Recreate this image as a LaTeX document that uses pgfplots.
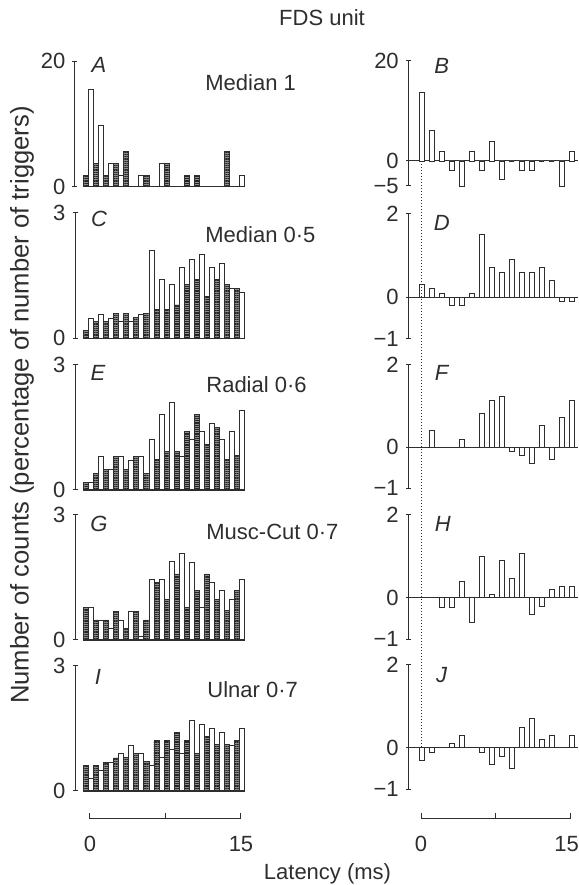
\documentclass[border=0pt]{standalone}
\usepackage{fontspec}
\setmainfont{Liberation Sans}
\usepackage{pgfplots}
\pgfplotsset{compat=1.18}
\usetikzlibrary{patterns.meta}

\newcommand\lf{\fontsize{11}{13}\selectfont}
\definecolor{ink}{gray}{0.18}

\pgfplotsset{
  panel/.style={scale only axis, anchor=south west,
    axis y line*=left, xtick=\empty,
    tick align=center, major tick length=2.5pt,
    every tick/.style={ink, line width=0.5pt},
    axis line style={ink, line width=0.5pt, -},
    tick label style={font=\lf, text=ink},
    clip=false},
  leftp/.style={panel, axis x line=none, xmin=-1.32, xmax=16, width=87.45pt, height=62.75pt,
    ymin=0, ymax=#1, ytick={0,#1}, yticklabels={0,#1}},
  rightp/.style={panel, axis x line*=middle, xmin=-1.34, xmax=15.63, width=84.85pt},
  hatch/.style={ybar, bar width=0.5, bar shift=-0.25, draw=ink, line width=0.4pt,
    fill=black!45,
    postaction={pattern color=black!85, pattern={Lines[angle=0,distance=1.1pt,line width=0.55pt]}}},
  openb/.style={ybar, bar width=0.5, bar shift=0.25, draw=ink, fill=white, line width=0.4pt},
  diffb/.style={ybar, bar width=0.5, bar shift=0, draw=ink, fill=white, line width=0.4pt},
  scalebar/.style={scale only axis, anchor=south west, height=10pt,
    xmin=0, xmax=15, ymin=0, ymax=1, axis y line=none, axis x line*=bottom,
    xtick={0,7.5,15}, tick align=inside, major tick length=2.75pt,
    every tick/.style={ink, line width=0.5pt},
    axis line style={ink, line width=0.5pt, -},
    tick label style={font=\lf, text=ink, yshift=-5pt}},
}

\begin{document}
\begin{tikzpicture}
\useasboundingbox (0,0) rectangle (289.5pt,442.5pt);

% ---------- A ----------
\begin{axis}[leftp=20, at={(37.5pt,349.15pt)}]
\addplot[hatch] coordinates {(0,1.85) (1,3.7) (2,1.85) (3,3.7) (4,5.6) (5,0) (6,1.85) (7,0) (8,3.7) (9,0) (10,1.85) (11,1.85) (12,0) (13,0) (14,5.6) (15,0)};
\addplot[openb] coordinates {(0,15.5) (1,9.7) (2,3.7) (3,1.85) (4,0) (5,1.85) (6,0) (7,3.7) (8,0) (9,0) (10,0) (11,0) (12,0) (13,0) (14,0) (15,1.85)};
\draw[ink, line width=0.5pt] (axis cs:-0.5,0) -- (axis cs:15.5,0);
\end{axis}

% ---------- B ----------
\begin{axis}[rightp, at={(204.15pt,349.5pt)}, height=62.65pt,
  ymin=-5, ymax=20, ytick={-5,0,20}, yticklabels={−5,0,20}]
\addplot[diffb] coordinates {(0,13.7) (1,6) (2,1.9) (3,-1.9) (4,-5) (5,1.9) (6,-1.9) (7,3.8) (8,-3.6) (9,0) (10,-1.9) (11,-1.9) (12,0) (13,0) (14,-5) (15,1.9)};
\coordinate (dtop) at (axis cs:0,0);
\end{axis}

% ---------- C ----------
\begin{axis}[leftp=3, at={(37.5pt,273.3pt)}]
\addplot[hatch] coordinates {(0,0.2) (1,0.4) (2,0.4) (3,0.6) (4,0.6) (5,0.5) (6,0.6) (7,0.7) (8,0.7) (9,0.8) (10,1.3) (11,1.4) (12,1.0) (13,1.4) (14,1.3) (15,1.2)};
\addplot[openb] coordinates {(0,0.48) (1,0.58) (2,0.48) (3,0.4) (4,0.4) (5,0.58) (6,2.1) (7,1.4) (8,1.3) (9,1.7) (10,1.9) (11,2.0) (12,1.7) (13,1.8) (14,1.2) (15,1.1)};
\draw[ink, line width=0.5pt] (axis cs:-0.5,0) -- (axis cs:15.5,0);
\end{axis}

% ---------- D ----------
\begin{axis}[rightp, at={(204.15pt,273pt)}, height=62.75pt,
  ymin=-1, ymax=2, ytick={-1,0,2}, yticklabels={−1,0,2}]
\addplot[diffb] coordinates {(0,0.3) (1,0.2) (2,0.1) (3,-0.2) (4,-0.2) (5,0.1) (6,1.5) (7,0.7) (8,0.6) (9,0.9) (10,0.6) (11,0.6) (12,0.7) (13,0.4) (14,-0.1) (15,-0.1)};
\end{axis}

% ---------- E ----------
\begin{axis}[leftp=3, at={(37.5pt,197.5pt)}]
\addplot[hatch] coordinates {(0,0.18) (1,0.4) (2,0.5) (3,0.8) (4,0.5) (5,0.8) (6,0.4) (7,0.72) (8,0.92) (9,0.92) (10,1.4) (11,1.8) (12,1.1) (13,1.5) (14,0.72) (15,0.82)};
\addplot[openb] coordinates {(0,0.18) (1,0.8) (2,0.5) (3,0.8) (4,0.7) (5,0.8) (6,1.2) (7,1.8) (8,2.1) (9,0.8) (10,1.2) (11,1.4) (12,1.6) (13,1.2) (14,1.4) (15,1.9)};
\draw[ink, line width=0.5pt] (axis cs:-0.5,0) -- (axis cs:15.5,0);
\end{axis}

% ---------- F ----------
\begin{axis}[rightp, at={(204.15pt,198.35pt)}, height=61.65pt,
  ymin=-1, ymax=2, ytick={-1,0,2}, yticklabels={−1,0,2}]
\addplot[diffb] coordinates {(0,0) (1,0.4) (2,0) (3,0) (4,0.2) (5,0) (6,0.82) (7,1.14) (8,1.24) (9,-0.1) (10,-0.2) (11,-0.4) (12,0.53) (13,-0.3) (14,0.73) (15,1.15)};
\end{axis}

% ---------- G ----------
\begin{axis}[leftp=3, at={(37.5pt,122.5pt)}]
\addplot[hatch] coordinates {(0,0.78) (1,0.48) (2,0.48) (3,0.68) (4,0.28) (5,0.68) (6,0.48) (7,1.38) (8,0.98) (9,1.58) (10,0.78) (11,1.18) (12,1.58) (13,0.98) (14,0.7) (15,1.18)};
\addplot[openb] coordinates {(0,0.78) (1,0.48) (2,0.28) (3,0.48) (4,0.68) (5,0.08) (6,1.46) (7,1.46) (8,1.88) (9,2.06) (10,1.86) (11,0.78) (12,1.38) (13,1.18) (14,0.98) (15,1.46)};
\draw[ink, line width=0.5pt] (axis cs:-0.5,0) -- (axis cs:15.5,0);
\end{axis}

% ---------- H ----------
\begin{axis}[rightp, at={(204.15pt,122.85pt)}, height=62.15pt,
  ymin=-1, ymax=2, ytick={-1,0,2}, yticklabels={−1,0,2}]
\addplot[diffb] coordinates {(0,0) (1,0) (2,-0.22) (3,-0.22) (4,0.4) (5,-0.6) (6,1.0) (7,0.08) (8,0.9) (9,0.48) (10,1.08) (11,-0.4) (12,-0.2) (13,0.2) (14,0.28) (15,0.28)};
\end{axis}

% ---------- I ----------
\begin{axis}[leftp=3, at={(37.5pt,47pt)}]
\addplot[hatch] coordinates {(0,0.6) (1,0.6) (2,0.69) (3,0.79) (4,0.8) (5,0.9) (6,0.7) (7,1.2) (8,1.2) (9,1.4) (10,1.2) (11,0.9) (12,1.31) (13,1.11) (14,1.11) (15,1.21)};
\addplot[openb] coordinates {(0,0.3) (1,0.5) (2,0.69) (3,0.9) (4,1.09) (5,0.9) (6,0.6) (7,0.8) (8,1.0) (9,0.9) (10,1.69) (11,1.59) (12,1.49) (13,1.4) (14,1.1) (15,1.49)};
\draw[ink, line width=0.5pt] (axis cs:-0.5,0) -- (axis cs:15.5,0);
\end{axis}

% ---------- J ----------
\begin{axis}[rightp, at={(204.15pt,47.85pt)}, height=62.15pt,
  ymin=-1, ymax=2, ytick={-1,0,2}, yticklabels={−1,0,2}]
\addplot[diffb] coordinates {(0,-0.3) (1,-0.1) (2,0) (3,0.1) (4,0.3) (5,0) (6,-0.1) (7,-0.4) (8,-0.2) (9,-0.5) (10,0.5) (11,0.7) (12,0.2) (13,0.3) (14,0) (15,0.3)};
\coordinate (dbot) at (axis cs:0,0);
\end{axis}

% scale bars
\begin{axis}[scalebar, at={(45pt,33pt)}, width=75.5pt, xticklabels={0,,15}]\end{axis}
\begin{axis}[scalebar, at={(210.5pt,33pt)}, width=74.75pt, xticklabels={0,,15\kern3.8pt}]\end{axis}

\draw[ink, densely dotted, line width=0.5pt] (dtop) -- (dbot);

% texts
\begin{scope}[every node/.style={font=\lf, text=ink, inner sep=0pt}]
\node at (161pt,433.5pt) {FDS unit};
\node at (163.75pt,5.5pt) {Latency (ms)};
\node[rotate=90, font=\fontsize{12.8}{15}\selectfont] at (11pt,240pt) {Number of counts (percentage of number of triggers)};
\node[font=\lf\itshape] at (49.5pt,410pt) {A};
\node[font=\lf\itshape] at (220.85pt,409.5pt) {B};
\node[font=\lf\itshape] at (49.5pt,333pt) {C};
\node[font=\lf\itshape] at (220.85pt,331pt) {D};
\node[font=\lf\itshape] at (49pt,256pt) {E};
\node[font=\lf\itshape] at (220.85pt,256pt) {F};
\node[font=\lf\itshape] at (49.5pt,180.5pt) {G};
\node[font=\lf\itshape] at (221.35pt,180.5pt) {H};
\node[font=\lf\itshape] at (49pt,104pt) {I};
\node[font=\lf\itshape] at (220.85pt,105pt) {J};
\node[anchor=west] at (102.5pt,401pt) {Median 1};
\node[anchor=west] at (102.5pt,325pt) {Median 0·5};
\node[anchor=west] at (103pt,250pt) {Radial 0·6};
\node[anchor=west] at (103pt,176.5pt) {Musc-Cut 0·7};
\node[anchor=west] at (103.5pt,97.5pt) {Ulnar 0·7};
\end{scope}
\end{tikzpicture}
\end{document}
